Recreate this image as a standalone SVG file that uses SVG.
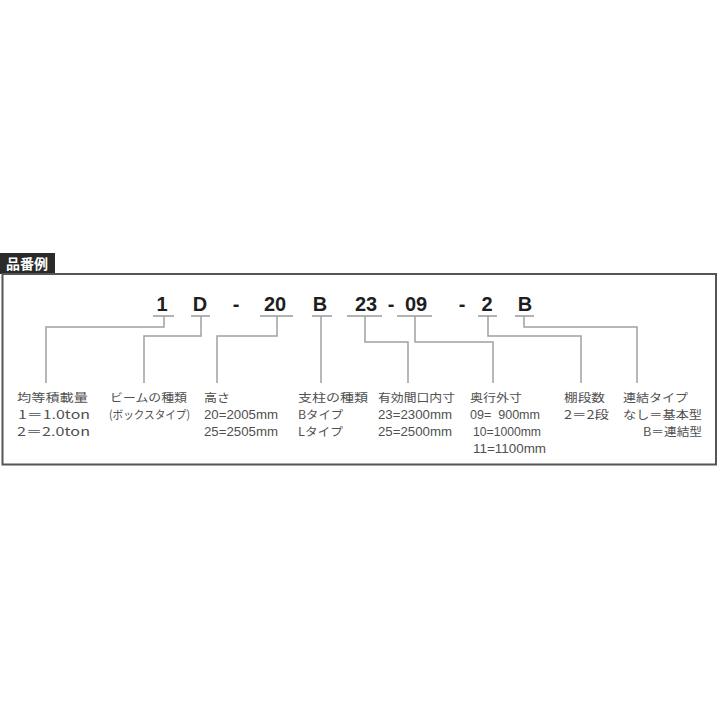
<svg xmlns="http://www.w3.org/2000/svg" width="720" height="720" viewBox="0 0 720 720">
<style>
.code{font-family:"Liberation Sans","Noto Sans CJK JP",sans-serif;font-size:20px;font-weight:bold;fill:#1e1e1e;text-anchor:middle}
.lbl{font-family:"Noto Sans CJK JP","Liberation Sans",sans-serif;font-size:11.7px;fill:#505050}
.num{font-family:"Liberation Sans","Noto Sans CJK JP",sans-serif;font-size:13px;fill:#505050}
.ul{stroke:#9a9a9a;stroke-width:1.3}
.con{fill:none;stroke:#a0a0a0;stroke-width:1.5}
</style>
<rect width="720" height="720" fill="#fff"/>
<g id="header">
<rect x="0" y="253" width="55" height="21" fill="#2a2a2a"/>
<text x="27" y="269" font-family="Noto Sans CJK JP,sans-serif" font-size="14" font-weight="bold" fill="#fff" text-anchor="middle">品番例</text>
</g>
<rect id="frame" x="2.5" y="274" width="713.5" height="190.5" fill="none" stroke="#555" stroke-width="2"/>
<g id="code">
<text class="code" x="162" y="311">1</text>
<text class="code" x="200" y="311">D</text>
<text class="code" x="236" y="311">-</text>
<text class="code" x="275" y="311">20</text>
<text class="code" x="320" y="311">B</text>
<text class="code" x="366" y="311">23</text>
<text class="code" x="391" y="311">-</text>
<text class="code" x="416" y="311">09</text>
<text class="code" x="462" y="311">-</text>
<text class="code" x="487" y="311">2</text>
<text class="code" x="525" y="311">B</text>
</g>
<g id="connectors">
<path class="ul" d="M153 316H174M191 316H210M260 316H293M312 316H332M347 316H382M397 316H432M478 316H497M515 316H534"/>
<path class="con" d="M164 316V327H46V383"/>
<path class="con" d="M201 316V336H144V383"/>
<path class="con" d="M277 316V336H217V383"/>
<path class="con" d="M321 316V383"/>
<path class="con" d="M365 316V342H408V383"/>
<path class="con" d="M415 316V342H493V383"/>
<path class="con" d="M488 316V336H581V383"/>
<path class="con" d="M524 316V327H637V383"/>
</g>
<g id="load">
<text class="lbl" x="17" y="402" textLength="71" lengthAdjust="spacingAndGlyphs">均等積載量</text>
<text class="lbl" x="18" y="419" textLength="72" lengthAdjust="spacingAndGlyphs">1＝1.0ton</text>
<text class="lbl" x="17" y="436" textLength="73" lengthAdjust="spacingAndGlyphs">2＝2.0ton</text>
</g>
<g id="beam">
<text class="lbl" x="110" y="402" textLength="77" lengthAdjust="spacingAndGlyphs">ビームの種類</text>
<text class="lbl" x="109" y="419" textLength="81" lengthAdjust="spacingAndGlyphs">(ボックスタイプ)</text>
</g>
<g id="height">
<text class="lbl" x="204" y="402" textLength="26" lengthAdjust="spacingAndGlyphs">高さ</text>
<text class="num" x="204" y="419" textLength="74" lengthAdjust="spacingAndGlyphs">20=2005mm</text>
<text class="num" x="204" y="436" textLength="74" lengthAdjust="spacingAndGlyphs">25=2505mm</text>
</g>
<g id="post">
<text class="lbl" x="298" y="402" textLength="70" lengthAdjust="spacingAndGlyphs">支柱の種類</text>
<text class="lbl" x="298" y="419" textLength="45" lengthAdjust="spacingAndGlyphs">Bタイプ</text>
<text class="lbl" x="298" y="436" textLength="45" lengthAdjust="spacingAndGlyphs">Lタイプ</text>
</g>
<g id="width">
<text class="lbl" x="378" y="402" textLength="77" lengthAdjust="spacingAndGlyphs">有効間口内寸</text>
<text class="num" x="378" y="419" textLength="74" lengthAdjust="spacingAndGlyphs">23=2300mm</text>
<text class="num" x="378" y="436" textLength="74" lengthAdjust="spacingAndGlyphs">25=2500mm</text>
</g>
<g id="depth">
<text class="lbl" x="470" y="402" textLength="52" lengthAdjust="spacingAndGlyphs">奥行外寸</text>
<text class="num" x="470" y="419" xml:space="preserve" textLength="70" lengthAdjust="spacingAndGlyphs">09=  900mm</text>
<text class="num" x="473" y="436" textLength="68" lengthAdjust="spacingAndGlyphs">10=1000mm</text>
<text class="num" x="473" y="453" textLength="73" lengthAdjust="spacingAndGlyphs">11=1100mm</text>
</g>
<g id="tiers">
<text class="lbl" x="564" y="402" textLength="41" lengthAdjust="spacingAndGlyphs">棚段数</text>
<text class="lbl" x="564" y="419" textLength="45" lengthAdjust="spacingAndGlyphs">2＝2段</text>
</g>
<g id="link">
<text class="lbl" x="623" y="402" textLength="65" lengthAdjust="spacingAndGlyphs">連結タイプ</text>
<text class="lbl" x="623" y="419" textLength="79" lengthAdjust="spacingAndGlyphs">なし＝基本型</text>
<text class="lbl" x="643" y="436" textLength="59" lengthAdjust="spacingAndGlyphs">B＝連結型</text>
</g>
</svg>
